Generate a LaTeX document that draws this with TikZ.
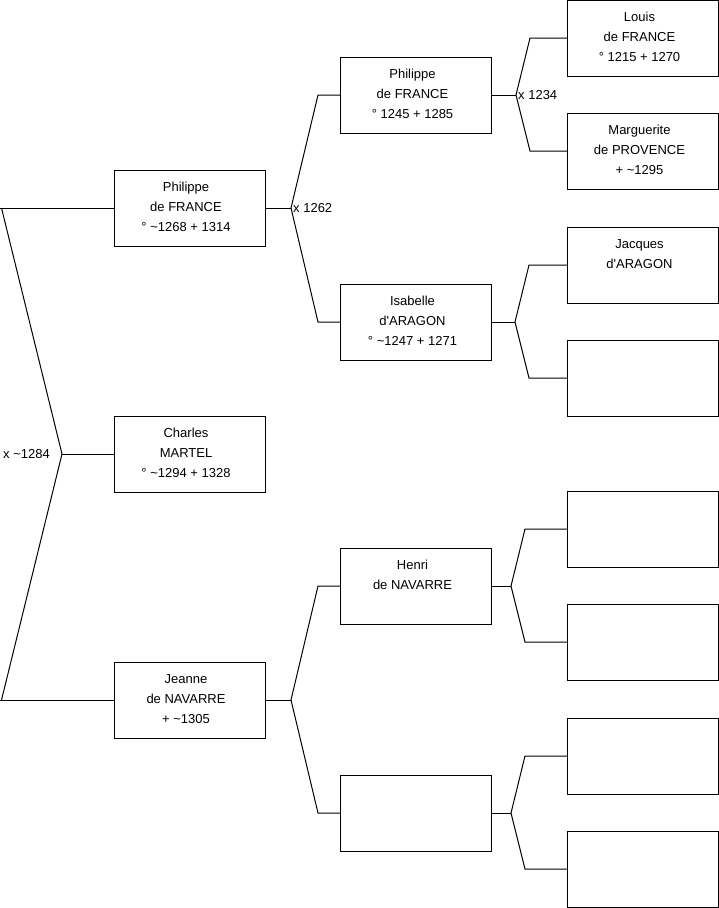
\documentclass[tikz,border=0pt]{standalone}
\usepackage{fontspec}
\setmainfont{Liberation Sans}
\usetikzlibrary{positioning}

\begin{document}
\begin{tikzpicture}[
    x=1pt, y=-1pt,
    font=\fontsize{13}{20}\selectfont,
    box/.style={rectangle, draw=black, line width=1pt, minimum width=151pt, minimum height=76pt, inner sep=0pt},
    lbl/.style={anchor=north, align=center, inner sep=0pt, xshift=-3.5pt, yshift=-12.5pt},
    person/.style={box, label={[lbl]north:{#1}}},
    link/.style={draw=black, line width=1pt},
    union/.style={inner sep=2pt, anchor=west}
]
\useasboundingbox (0,0) rectangle (719,908);

% Generation 1
\node[person={Philippe\\de FRANCE\\° \textasciitilde1268 + 1314}] (philippeA) at (189.5,208) {};
\node[person={Charles\\MARTEL\\° \textasciitilde1294 + 1328}] (charles) at (189.5,454) {};
\node[person={Jeanne\\de NAVARRE\\+ \textasciitilde1305}] (jeanne) at (189.5,700) {};

% Generation 2
\node[person={Philippe\\de FRANCE\\° 1245 + 1285}] (philippeB) at (416,95) {};
\node[person={Isabelle\\d\textquotesingle ARAGON\\° \textasciitilde1247 + 1271}] (isabelle) at (416,322) {};
\node[person={Henri\\de NAVARRE}] (henri) at (416,586) {};
\node[box] (blankB) at (416,813) {};

% Generation 3
\node[person={Louis\\de FRANCE\\° 1215 + 1270}] (louis) at (643,38) {};
\node[person={Marguerite\\de PROVENCE\\+ \textasciitilde1295}] (marguerite) at (643,151) {};
\node[person={Jacques\\d\textquotesingle ARAGON}] (jacques) at (643,265) {};
\node[box] (blankC1) at (643,378) {};
\node[box] (blankC2) at (643,529) {};
\node[box] (blankC3) at (643,642) {};
\node[box] (blankC4) at (643,756) {};
\node[box] (blankC5) at (643,869) {};

% Fork points
\coordinate (j0) at (62,454);
\coordinate (j1) at (291,208);
\coordinate (j2) at (291,700);
\coordinate (j3) at (516,95);
\coordinate (j4) at (515,322);
\coordinate (j5) at (511,586);
\coordinate (j6) at (511,813);

% Corners
\coordinate (c0a) at ([xshift=-112pt]philippeA.west);
\coordinate (c0b) at ([xshift=-112pt]jeanne.west);
\coordinate (c1a) at ([xshift=-22pt]philippeB.west);
\coordinate (c1b) at ([xshift=-22pt]isabelle.west);
\coordinate (c2a) at ([xshift=-22pt]henri.west);
\coordinate (c2b) at ([xshift=-22pt]blankB.west);
\coordinate (c3a) at ([xshift=-37pt]louis.west);
\coordinate (c3b) at ([xshift=-37pt]marguerite.west);
\coordinate (c4a) at ([xshift=-38pt]jacques.west);
\coordinate (c4b) at ([xshift=-38pt]blankC1.west);
\coordinate (c5a) at ([xshift=-42pt]blankC2.west);
\coordinate (c5b) at ([xshift=-42pt]blankC3.west);
\coordinate (c6a) at ([xshift=-42pt]blankC4.west);
\coordinate (c6b) at ([xshift=-42pt]blankC5.west);

% Links
\draw[link] (philippeA.west) -- ([xshift=-114pt]philippeA.west);
\draw[link] (jeanne.west) -- ([xshift=-114pt]jeanne.west);
\draw[link] (c0a) -- (j0) -- (c0b);
\draw[link] (j0) -- (charles.west);

\draw[link] (philippeA.east) -- (j1);
\draw[link] (philippeB.west) -- (c1a) -- (j1) -- (c1b) -- (isabelle.west);
\draw[link] (jeanne.east) -- (j2);
\draw[link] (henri.west) -- (c2a) -- (j2) -- (c2b) -- (blankB.west);

\draw[link] (philippeB.east) -- (j3);
\draw[link] (louis.west) -- (c3a) -- (j3) -- (c3b) -- (marguerite.west);
\draw[link] (isabelle.east) -- (j4);
\draw[link] (jacques.west) -- (c4a) -- (j4) -- (c4b) -- (blankC1.west);
\draw[link] (henri.east) -- (j5);
\draw[link] (blankC2.west) -- (c5a) -- (j5) -- (c5b) -- (blankC3.west);
\draw[link] (blankB.east) -- (j6);
\draw[link] (blankC4.west) -- (c6a) -- (j6) -- (c6b) -- (blankC5.west);

% Marriages
\node[union, anchor=east, inner sep=12pt] (m0) at (j0) {x \textasciitilde1284};
\node[union] (m1) at (j1) {x 1262};
\node[union] (m3) at (j3) {x 1234};

\end{tikzpicture}
\end{document}
